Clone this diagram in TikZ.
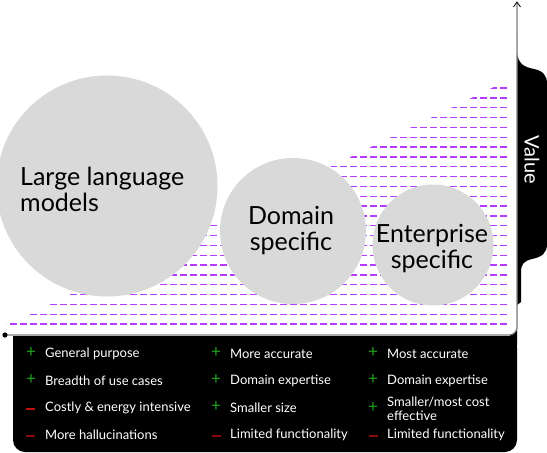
\documentclass[tikz,border=0pt]{standalone}
\usepackage{fontspec}
\setmainfont{Lato}
\usetikzlibrary{arrows.meta}
\definecolor{bubblegray}{HTML}{D9D9D9}
\definecolor{dashpurple}{HTML}{B43CFF}
\definecolor{plusgreen}{HTML}{1FA51F}
\definecolor{minusred}{HTML}{C01010}
\definecolor{minusdark}{HTML}{8A0A0A}
\definecolor{axisgray}{HTML}{808080}
\tikzset{
  bubble/.style={circle, fill=bubblegray, inner sep=0pt},
  bubbletext/.style={inner sep=0pt, text=black, font=\fontsize{25}{26}\selectfont},
  dashrow/.style={draw=dashpurple, line width=1.3pt, dash pattern=on 6.5pt off 3.5pt},
  item/.style={anchor=west, text=white, font=\fontsize{13}{14.5}\selectfont, inner sep=0pt, align=left},
  sign/.style={text=plusgreen, font=\fontsize{17}{17}\selectfont, inner sep=0pt},
  neg/.style={text=minusred, inner sep=0pt},
  negd/.style={text=minusdark, inner sep=0pt},
}
\newcommand{\minusbar}{\rule{9pt}{1.8pt}}
\begin{document}
\begin{tikzpicture}[x=1pt,y=-1pt]
\useasboundingbox (0,0) rectangle (547,453);
% black tab on the right
\fill[black] (510,33) -- (517,33) -- (517,52) .. controls (518,64) and (524,67) .. (534,69)
  .. controls (543,71) and (547,75) .. (547,84) -- (547,244)
  .. controls (547,253) and (542,257) .. (532,259)
  .. controls (524,261) and (521,264) .. (521,272) -- (521,302) -- (517,305) -- (517,345) -- (510,345) -- cycle;
% black bottom panel
\fill[black, rounded corners=12pt] (13,336) rectangle (517,452);
\fill[black] (13,336) rectangle (517,370);
% white plotting area
\fill[white, rounded corners=8pt] (-10,-10) rectangle (517,335);
% dashed rows
\begin{scope}
  \clip (4,330) -- (4,326) -- (500,84) -- (507,84) -- (507,330) -- cycle;
  \foreach \i in {0,...,24} {
    \draw[dashrow] (0,{324-9.83*\i}) -- (507,{324-9.83*\i});
  }
\end{scope}
% bubbles
\node[bubble, minimum size=221pt] (llm) at (107,186) {};
\node[bubble, minimum size=146pt] (dom) at (293,231) {};
\node[bubble, minimum size=121pt] (ent) at (433,245) {};
\node[bubbletext, anchor=west, align=left] (llmtext) at (20,189) {Large language\\models};
\node[bubbletext, align=center] (domtext) at (291,231) {Domain\\specific};
\node[bubbletext, align=center] (enttext) at (432,249) {Enterprise\\specific};
% axes
\coordinate (origin) at (5,335);
\coordinate (corner) at (517,335);
\coordinate (top) at (517,2);
\draw[axisgray, line width=1.2pt, rounded corners=8pt] (origin) -- (corner) -- (top);
\draw[black, line width=0.8pt] (513.5,7) -- (top) -- (520.5,7);
\fill[black] (origin) circle (2.6pt);
% value label
\node[rotate=-90, text=white, font=\fontsize{20}{20}\selectfont] (value) at (532,160) {Value};
% column 1
\node[sign] (s11) at (31,353) {+};
\node[item] (t11) at (45,354) {General purpose};
\node[sign] (s12) at (31,380) {+};
\node[item] (t12) at (45,381) {Breadth of use cases};
\node[neg] (s13) at (31,409) {\minusbar};
\node[item] (t13) at (45,408) {Costly \& energy intensive};
\node[negd] (s14) at (31,436) {\minusbar};
\node[item] (t14) at (45,435) {More hallucinations};
% column 2
\node[sign] (s21) at (216,353) {+};
\node[item] (t21) at (230,354) {More accurate};
\node[sign] (s22) at (216,380) {+};
\node[item] (t22) at (230,381) {Domain expertise};
\node[sign] (s23) at (216,407) {+};
\node[item] (t23) at (230,408) {Smaller size};
\node[negd] (s24) at (216,436) {\minusbar};
\node[item] (t24) at (230,435) {Limited functionality};
% column 3
\node[sign] (s31) at (373,353) {+};
\node[item] (t31) at (387,354) {Most accurate};
\node[sign] (s32) at (373,380) {+};
\node[item] (t32) at (387,381) {Domain expertise};
\node[sign] (s33) at (373,408) {+};
\node[item] (t33) at (387,409) {Smaller/most cost\\effective};
\node[negd] (s34) at (373,436) {\minusbar};
\node[item] (t34) at (387,435) {Limited functionality};
\end{tikzpicture}
\end{document}
